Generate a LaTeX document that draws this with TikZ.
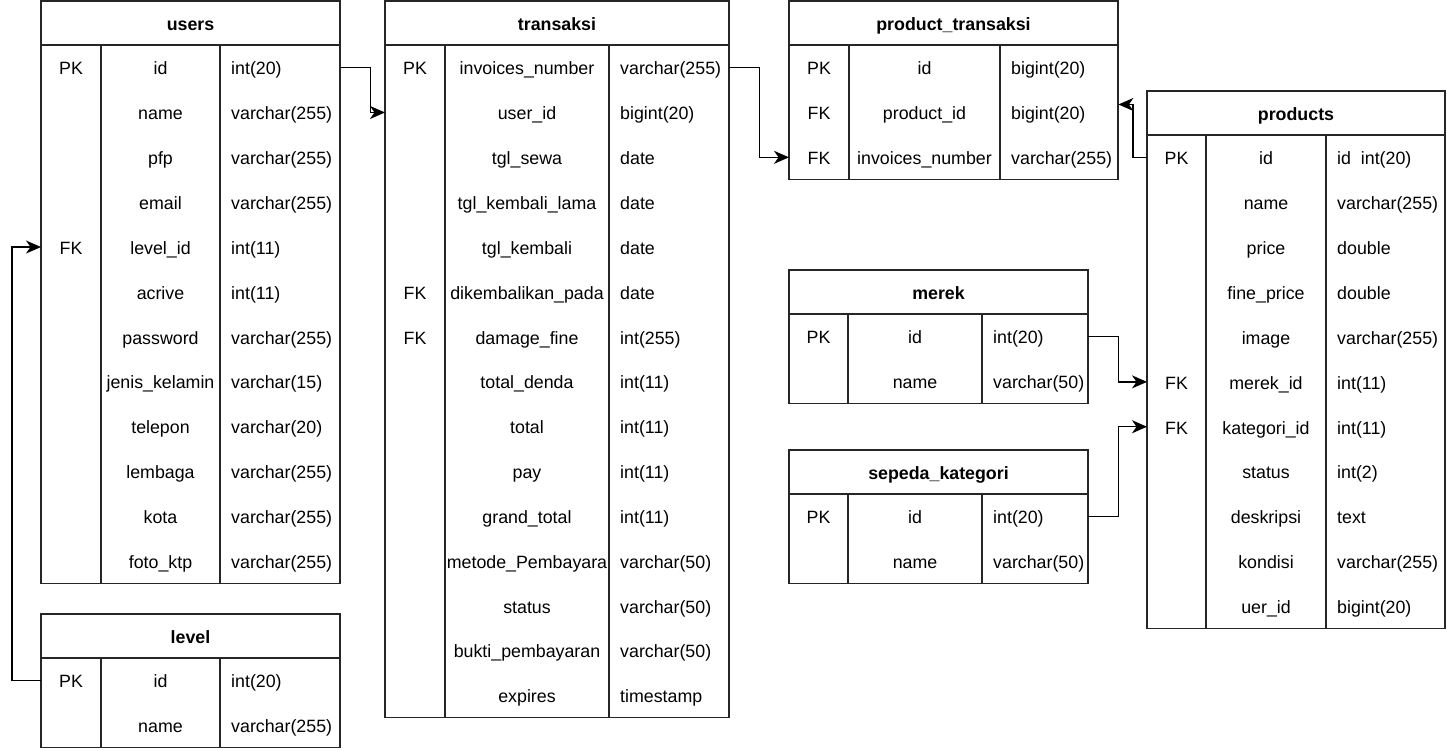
\documentclass[tikz,border=0pt]{standalone}
\usepackage{fontspec}
\setmainfont{Liberation Sans}
\usetikzlibrary{arrows.meta}
\tikzset{
  tline/.style={line width=1.3pt, draw=black!85},
  hdr/.style={inner sep=0pt, minimum height=44pt, font=\fontsize{17.8}{20}\selectfont\bfseries, text height=15pt, text depth=0pt},
  rowbox/.style={inner sep=0pt, minimum height=44.85pt},
  cell/.style={inner sep=0pt, font=\fontsize{17.8}{20}\selectfont, text height=15pt, text depth=0pt},
  conn/.style={line width=1.4pt, -{Stealth[length=15pt,width=13pt,inset=4.5pt]}},
}
\newcommand\ertable[9]{%
  \pgfmathsetmacro\tw{#5-#2}%
  \pgfmathsetmacro\hbot{#6+44}%
  \pgfmathsetmacro\tbot{#6+44+44.85*#7}%
  \pgfmathsetmacro\kx{(#2+#3)/2}%
  \pgfmathsetmacro\nx{(#3+#4)/2}%
  \pgfmathsetmacro\txx{#4+11}%
  \pgfmathsetmacro\hx{(#2+#5)/2}%
  \pgfmathsetmacro\hy{#6+22}%
  \node[hdr, minimum width=\tw pt] (#1-h) at (\hx,\hy) {#8};
  \foreach \colA/\colB/\colC [count=\ri] in {#9} {
    \pgfmathsetmacro\ry{\hbot+44.85*(\ri-1)}
    \pgfmathsetmacro\cy{\ry+22.425}
    \node[rowbox, minimum width=\tw pt, anchor=north west] (#1-r\ri) at (#2,\ry) {};
    \node[cell] (#1-k\ri) at (\kx,\cy) {\colA};
    \node[cell] (#1-n\ri) at (\nx,\cy) {\colB};
    \node[cell, anchor=west] (#1-t\ri) at (\txx,\cy) {\colC};
  }
  \draw[tline] (#2,#6) rectangle (#5,\tbot);
  \draw[tline] (#2,\hbot) -- (#5,\hbot);
  \draw[tline] (#3,\hbot) -- (#3,\tbot);
  \draw[tline] (#4,\hbot) -- (#4,\tbot);
}
\begin{document}
\begin{tikzpicture}[x=1pt,y=-1pt]
\useasboundingbox (0,0) rectangle (1447,750);
\fill[white] (0,0) rectangle (1447,750);

\ertable{users}{41}{101}{220}{340}{1}{12}{users}{PK/id/int(20), /name/varchar(255), /pfp/varchar(255), /email/varchar(255), FK/level\_id/int(11), /acrive/int(11), /password/varchar(255), /jenis\_kelamin/varchar(15), /telepon/varchar(20), /lembaga/varchar(255), /kota/varchar(255), /foto\_ktp/varchar(255)}

\ertable{level}{41}{101}{220}{340}{614}{2}{level}{PK/id/int(20), /name/varchar(255)}

\ertable{transaksi}{385}{445}{609}{729}{1}{15}{transaksi}{PK/invoices\_number/varchar(255), /user\_id/bigint(20), /tgl\_sewa/date, /tgl\_kembali\_lama/date, /tgl\_kembali/date, FK/dikembalikan\_pada/date, FK/damage\_fine/int(255), /total\_denda/int(11), /total/int(11), /pay/int(11), /grand\_total/int(11), /metode\_Pembayara/varchar(50), /status/varchar(50), /bukti\_pembayaran/varchar(50), /expires/timestamp}

\ertable{pt}{789}{849}{1000}{1118}{1}{3}{product\_transaksi}{PK/id/bigint(20), FK/product\_id/bigint(20), FK/invoices\_number/varchar(255)}

\ertable{products}{1147}{1206}{1326}{1445}{91}{11}{products}{PK/id/id~ int(20), /name/varchar(255), /price/double, /fine\_price/double, /image/varchar(255), FK/merek\_id/int(11), FK/kategori\_id/int(11), /status/int(2), /deskripsi/text, /kondisi/varchar(255), /uer\_id/bigint(20)}

\ertable{merek}{789}{848}{982}{1088}{270}{2}{merek}{PK/id/int(20), /name/varchar(50)}

\ertable{sk}{789}{848}{982}{1088}{450}{2}{sepeda\_kategori}{PK/id/int(20), /name/varchar(50)}

\draw[conn] (users-r1.east) -- ++(30,0) |- (transaksi-r2.west);
\draw[conn] (transaksi-r1.east) -- ++(30,0) |- (pt-r3.west);
\draw[conn] (products-r1.west) -- ++(-14,0) |- ([yshift=8pt]pt-r2.east);
\draw[conn] (merek-r1.east) -- ++(30,0) |- (products-r6.west);
\draw[conn] (sk-r1.east) -- ++(30,0) |- (products-r7.west);
\draw[conn] (level-r1.west) -- ++(-29,0) |- (users-r5.west);
\end{tikzpicture}
\end{document}
